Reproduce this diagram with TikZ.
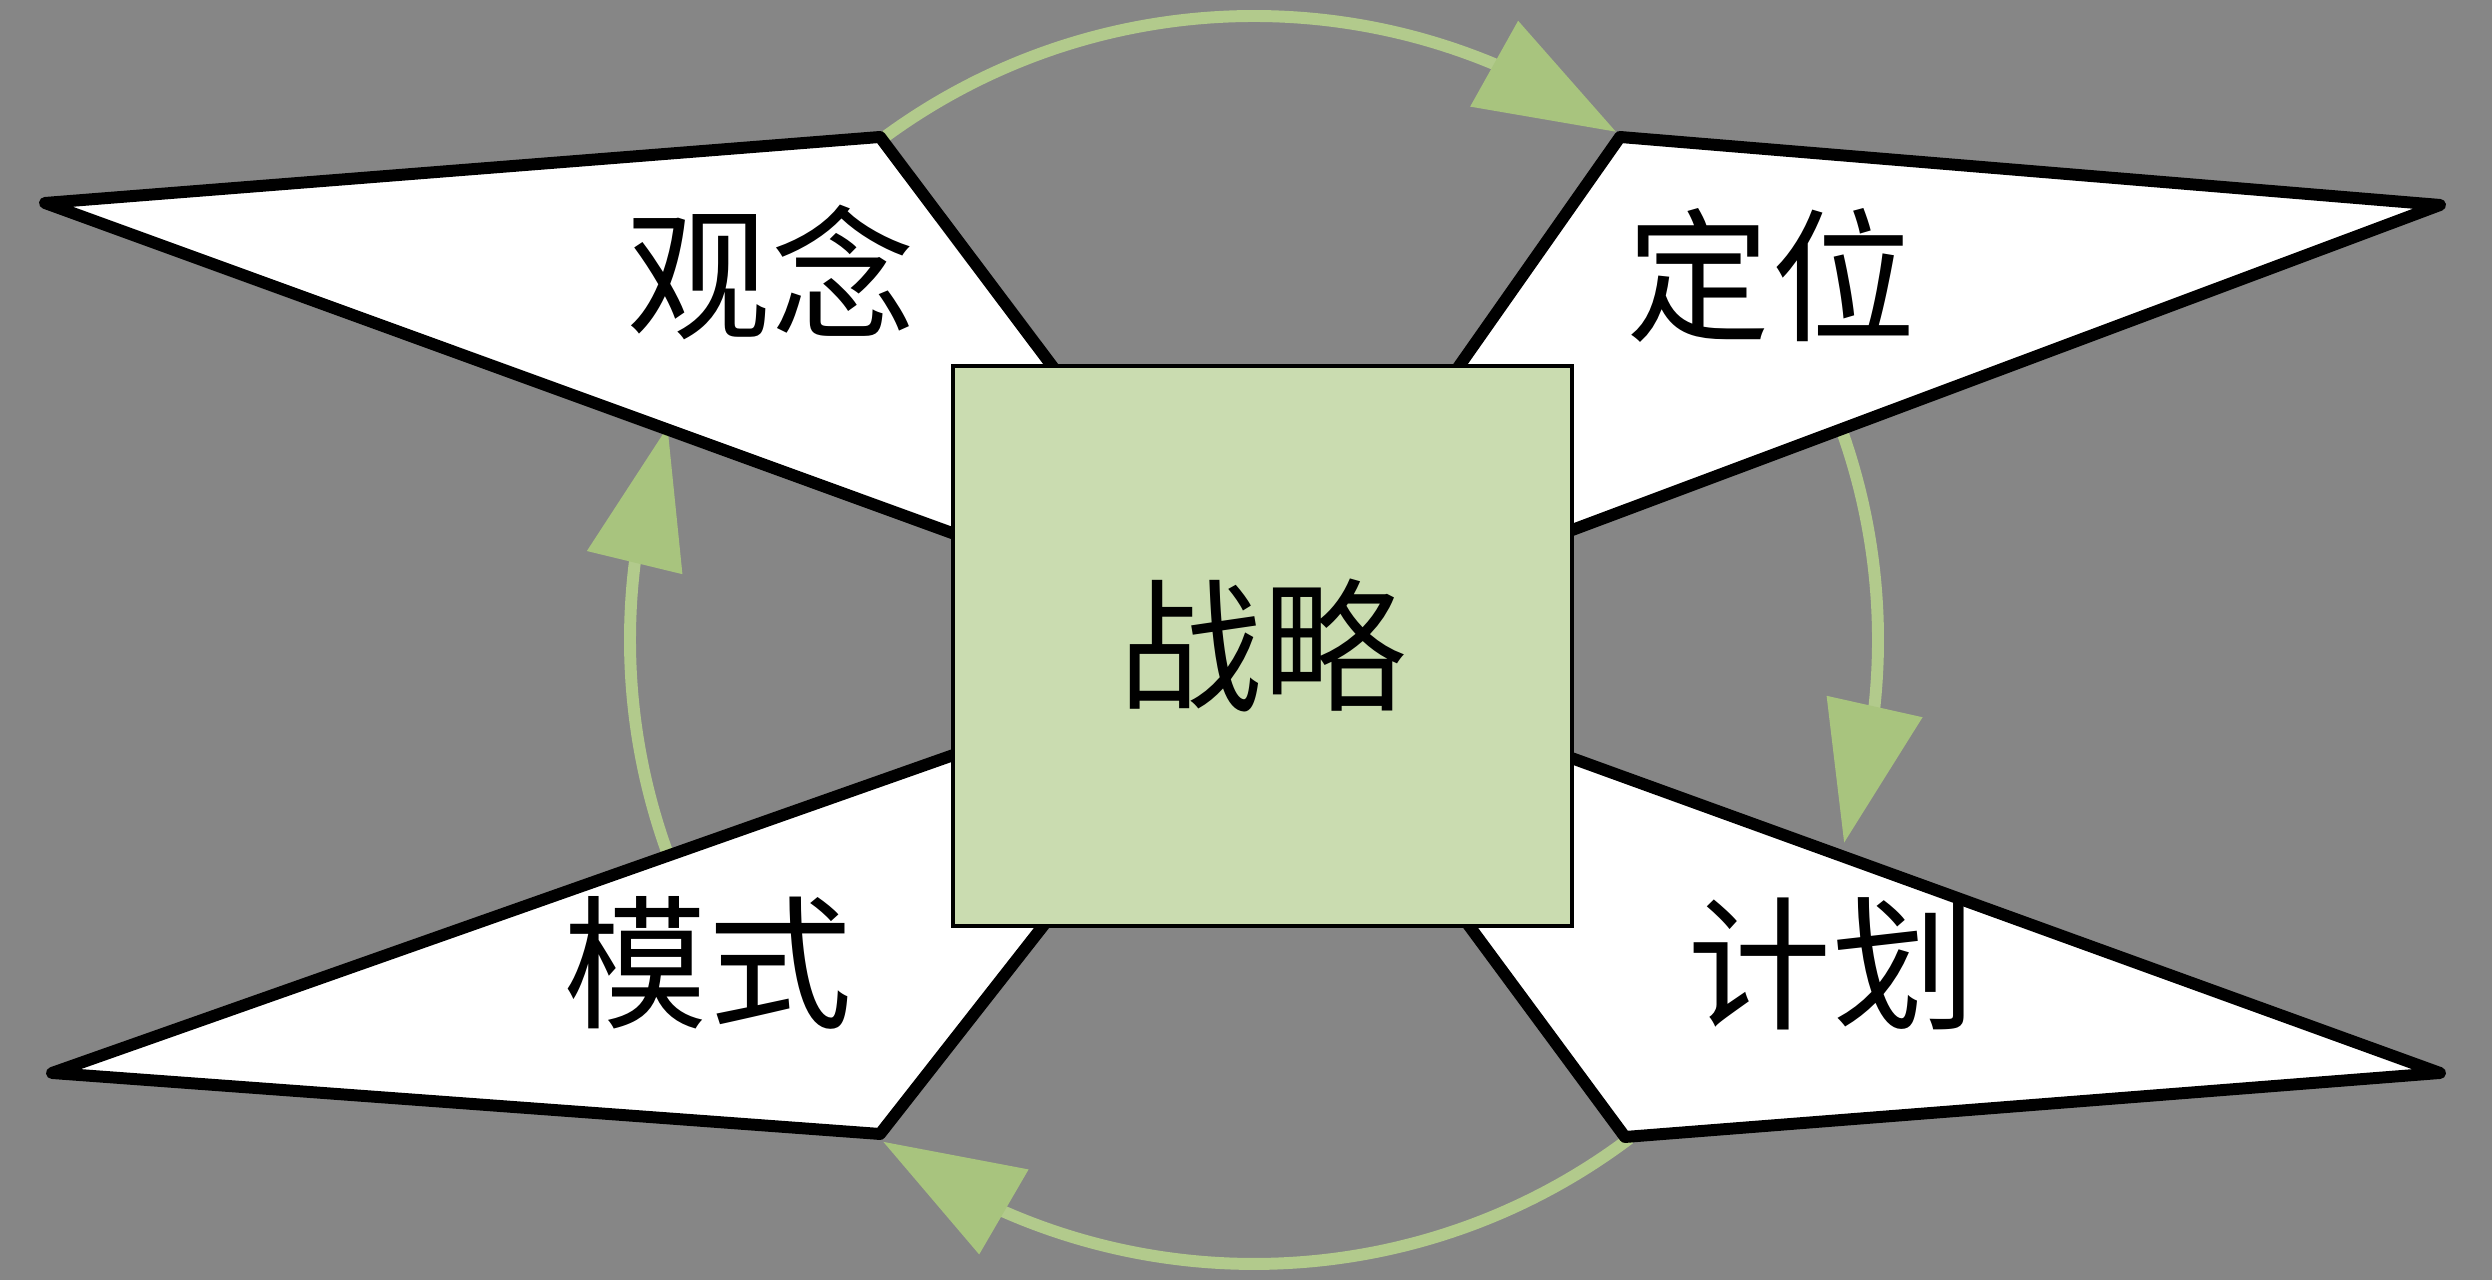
\documentclass[tikz,border=0pt]{standalone}
\usepackage{fontspec}
\newfontfamily\cjk{Noto Sans CJK SC}
\usetikzlibrary{arrows.meta,bending}
\definecolor{bggray}{RGB}{134,134,134}
\definecolor{leafgreen}{RGB}{178,202,140}
\definecolor{tipgreen}{RGB}{168,196,126}
\definecolor{boxgreen}{RGB}{202,220,176}

\begin{document}
\begin{tikzpicture}[wing/.style={draw=black, fill=white, line width=3.4pt, line join=round},
  loopline/.style={draw=leafgreen, line width=3.4pt, -{Triangle[length=14mm, width=9.5mm, color=tipgreen]}},
  word/.style={font=\cjk\fontsize{41}{41}\selectfont, inner sep=0pt}]
  \fill[bggray] (0,0) rectangle (24.92,12.80);
  \useasboundingbox (0,0) rectangle (24.92,12.80);
  \coordinate (hub) at (12.54,6.40);
  \coordinate (mid) at (12.625,6.34);
  % green cycle
  \draw[loopline] ([shift={(127:6.24)}]hub) arc[start angle=127, end angle=54.5, radius=6.24];
  \draw[loopline] ([shift={(30:6.24)}]hub) arc[start angle=30, end angle=-19, radius=6.24];
  \draw[loopline] ([shift={(-53:6.24)}]hub) arc[start angle=-53, end angle=-126.5, radius=6.24];
  \draw[loopline] ([shift={(210:6.24)}]hub) arc[start angle=210, end angle=160, radius=6.24];
  % four wings
  \coordinate (tl-tip) at (0.45,10.77);  \coordinate (tl-cor) at (8.80,11.43);
  \coordinate (tr-tip) at (24.40,10.75); \coordinate (tr-cor) at (16.20,11.43);
  \coordinate (bl-tip) at (0.52,2.07);   \coordinate (bl-cor) at (8.80,1.46);
  \coordinate (br-tip) at (24.40,2.07);  \coordinate (br-cor) at (16.25,1.43);
  \draw[wing] (tl-tip) -- (tl-cor) -- (mid) -- cycle;
  \draw[wing] (tr-tip) -- (tr-cor) -- (mid) -- cycle;
  \draw[wing] (bl-tip) -- (bl-cor) -- (mid) -- cycle;
  \draw[wing] (br-tip) -- (br-cor) -- (mid) -- cycle;
  % centre box
  \node[draw=black, line width=1.2pt, fill=boxgreen, minimum width=6.19cm, minimum height=5.6cm,
    inner sep=0pt, font=\cjk\fontsize{41}{41}\selectfont] (core) at (mid) {战略};
  \node[word] (perspective) at (7.71,10.08) {观念};
  \node[word] (position) at (17.71,10.05) {定位};
  \node[word] (pattern) at (7.08,3.17) {模式};
  \node[word] (plan) at (18.32,3.16) {计划};
\end{tikzpicture}
\end{document}
